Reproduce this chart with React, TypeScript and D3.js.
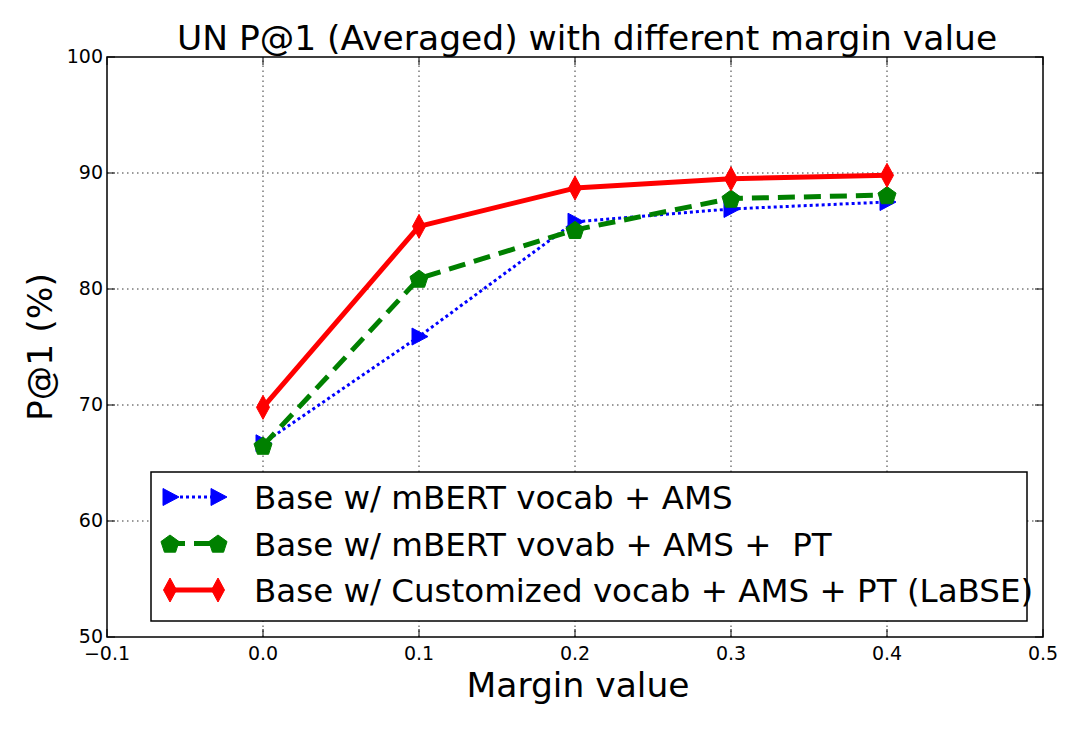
import { useEffect, useRef } from "react";
import * as d3 from "d3";

const margins = [0.0, 0.1, 0.2, 0.3, 0.4];
const mbertAms = [66.7, 75.9, 85.8, 86.9, 87.5];
const mbertAmsPt = [66.5, 80.9, 85.1, 87.8, 88.1];
const labse = [69.8, 85.4, 88.7, 89.5, 89.8];
const xTicks = [-0.1, 0.0, 0.1, 0.2, 0.3, 0.4, 0.5];
const yTicks = [50, 60, 70, 80, 90, 100];
const seriesNames = [
  "Base w/ mBERT vocab + AMS",
  "Base w/ mBERT vovab + AMS +  PT",
  "Base w/ Customized vocab + AMS + PT (LaBSE)",
];

const W = 1083,
  H = 729;
const FONT = "'DejaVu Sans', sans-serif";

type Series = {
  name: string;
  values: number[];
  color: string;
  width: number;
  dash: string | null;
  marker: "tri" | "pent" | "diamond";
};

const series: Series[] = [
  { name: seriesNames[0], values: mbertAms, color: "#0000ff", width: 3, dash: "3,3", marker: "tri" },
  { name: seriesNames[1], values: mbertAmsPt, color: "#008000", width: 5, dash: "17,9", marker: "pent" },
  { name: seriesNames[2], values: labse, color: "#ff0000", width: 5, dash: null, marker: "diamond" },
];

function markerPath(kind: string) {
  if (kind === "tri") return "M-7,-8.5 L9,0 L-7,8.5 Z";
  if (kind === "pent") {
    const pts = d3.range(5).map((i) => {
      const a = -Math.PI / 2 + (i * 2 * Math.PI) / 5;
      return [Math.cos(a) * 9.5, Math.sin(a) * 9.5 + 1];
    });
    return "M" + pts.map((p) => p.join(",")).join("L") + "Z";
  }
  return "M0,-12 L6.5,0 L0,12 L-6.5,0 Z";
}

const App = () => {
  const ref = useRef<SVGSVGElement>(null);

  useEffect(() => {
    const svg = d3.select(ref.current);
    svg.selectAll("*").remove();

    const m = { top: 57, right: 40, bottom: 92, left: 107 };
    const x = d3.scaleLinear().domain([-0.1, 0.5]).range([m.left, W - m.right]);
    const y = d3.scaleLinear().domain([50, 100]).range([H - m.bottom, m.top]);

    // grid
    const grid = svg.append("g");
    xTicks.slice(1, -1).forEach((t) => {
      grid
        .append("line")
        .attr("x1", x(t))
        .attr("x2", x(t))
        .attr("y1", y(50))
        .attr("y2", y(100))
        .attr("stroke", "#000")
        .attr("stroke-width", 0.8)
        .attr("stroke-dasharray", "1.5,3.5");
    });
    yTicks.slice(1, -1).forEach((t) => {
      grid
        .append("line")
        .attr("x1", x(-0.1))
        .attr("x2", x(0.5))
        .attr("y1", y(t))
        .attr("y2", y(t))
        .attr("stroke", "#000")
        .attr("stroke-width", 0.8)
        .attr("stroke-dasharray", "1.5,3.5");
    });

    // lines + markers
    series.forEach((s) => {
      const line = d3
        .line<number>()
        .x((_, i) => x(margins[i]))
        .y((d) => y(d));
      svg
        .append("path")
        .datum(s.values)
        .attr("fill", "none")
        .attr("stroke", s.color)
        .attr("stroke-width", s.width)
        .attr("stroke-dasharray", s.dash)
        .attr("stroke-linejoin", "round")
        .attr("d", line);
      svg
        .selectAll(null)
        .data(s.values)
        .enter()
        .append("path")
        .attr("d", markerPath(s.marker))
        .attr("transform", (d, i) => `translate(${x(margins[i])},${y(d)})`)
        .attr("fill", s.color)
        .attr("stroke", s.color)
        .attr("stroke-width", 1);
    });

    // frame
    svg
      .append("rect")
      .attr("x", x(-0.1))
      .attr("y", y(100))
      .attr("width", x(0.5) - x(-0.1))
      .attr("height", y(50) - y(100))
      .attr("fill", "none")
      .attr("stroke", "#000")
      .attr("stroke-width", 1.5);

    // ticks (inward, both sides)
    const tl = 8;
    xTicks.forEach((t) => {
      svg.append("line").attr("x1", x(t)).attr("x2", x(t)).attr("y1", y(50)).attr("y2", y(50) - tl).attr("stroke", "#000");
      svg.append("line").attr("x1", x(t)).attr("x2", x(t)).attr("y1", y(100)).attr("y2", y(100) + tl).attr("stroke", "#000");
      svg
        .append("text")
        .attr("x", x(t))
        .attr("y", y(50) + 23)
        .attr("text-anchor", "middle")
        .attr("font-family", FONT)
        .attr("font-size", 19)
        .text(t < 0 ? "\u2212" + Math.abs(t).toFixed(1) : t.toFixed(1));
    });
    yTicks.forEach((t) => {
      svg.append("line").attr("x1", x(-0.1)).attr("x2", x(-0.1) + tl).attr("y1", y(t)).attr("y2", y(t)).attr("stroke", "#000");
      svg.append("line").attr("x1", x(0.5)).attr("x2", x(0.5) - tl).attr("y1", y(t)).attr("y2", y(t)).attr("stroke", "#000");
      svg
        .append("text")
        .attr("x", x(-0.1) - 4)
        .attr("y", y(t) + 6)
        .attr("text-anchor", "end")
        .attr("font-family", FONT)
        .attr("font-size", 19)
        .text(t);
    });

    // title + axis labels
    svg
      .append("text")
      .attr("x", 587)
      .attr("y", 50)
      .attr("text-anchor", "middle")
      .attr("font-family", FONT)
      .attr("font-size", 34.5)
      .text("UN P@1 (Averaged) with different margin value");
    svg
      .append("text")
      .attr("x", 578)
      .attr("y", 697)
      .attr("text-anchor", "middle")
      .attr("font-family", FONT)
      .attr("font-size", 34.5)
      .text("Margin value");
    svg
      .append("text")
      .attr("transform", `translate(52,${(y(50) + y(100)) / 2}) rotate(-90)`)
      .attr("text-anchor", "middle")
      .attr("font-family", FONT)
      .attr("font-size", 34.5)
      .text("P@1 (%)");

    // legend
    const lg = svg.append("g");
    lg.append("rect")
      .attr("x", 151)
      .attr("y", 472)
      .attr("width", 876)
      .attr("height", 149)
      .attr("fill", "#fff")
      .attr("stroke", "#000")
      .attr("stroke-width", 1.5);
    series.forEach((s, i) => {
      const cy = 497 + i * 46.5;
      lg.append("line")
        .attr("x1", 168)
        .attr("x2", 220)
        .attr("y1", cy)
        .attr("y2", cy)
        .attr("stroke", s.color)
        .attr("stroke-width", s.width)
        .attr("stroke-dasharray", s.dash);
      [170, 218].forEach((mx) => {
        lg.append("path")
          .attr("d", markerPath(s.marker))
          .attr("transform", `translate(${mx},${cy})`)
          .attr("fill", s.color)
          .attr("stroke", s.color);
      });
      lg.append("text")
        .attr("x", 254)
        .attr("y", cy + 12)
        .attr("font-family", FONT)
        .attr("font-size", 32.5)
        .attr("xml:space", "preserve")
        .style("white-space", "pre")
        .text(s.name);
    });
  }, []);

  return (
    <svg
      ref={ref}
      width={W}
      height={H}
      style={{ position: "absolute", left: 0, top: 0, background: "#fff" }}
    />
  );
};

export default App;
